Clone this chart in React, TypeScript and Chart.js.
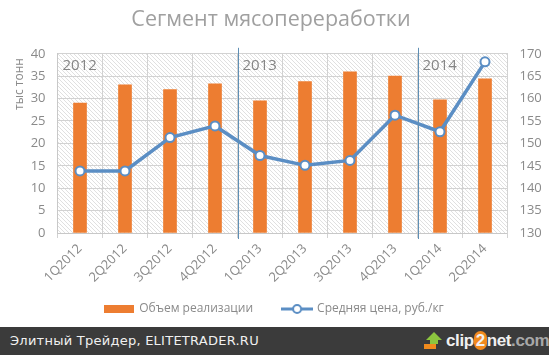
import React, { useEffect, useRef } from "react";
import { Chart, registerables } from "chart.js";

Chart.register(...registerables);

const categories = ["1Q2012", "2Q2012", "3Q2012", "4Q2012", "1Q2013", "2Q2013", "3Q2013", "4Q2013", "1Q2014", "2Q2014"];
const volumes = [29, 33.1, 32, 33.3, 29.5, 33.8, 36, 35, 29.7, 34.4];
const prices = [143.85, 143.85, 151.3, 153.9, 147.3, 145.1, 146.2, 156.3, 152.6, 168.2];
const years = ["2012", "2013", "2014"];
const yearStarts = [0, 4, 8];
const titleText = "Сегмент мясопереработки";
const volumeLabel = "Объем реализации";
const priceLabel = "Средняя цена, руб./кг";
const leftAxisTitle = "тыс тонн";
const footerText = "Элитный Трейдер, ELITETRADER.RU";

const FONT = "'Open Sans', sans-serif";
const GREY = "#8a8a8a";
const BLUE = "#5b8ec4";
const ORANGE = "#ed7d31";

function barSwatch() {
  const c = document.createElement("canvas");
  c.width = 30;
  c.height = 8;
  const x = c.getContext("2d")!;
  x.fillStyle = ORANGE;
  x.fillRect(0, 0, 30, 8);
  return c;
}

function lineSwatch() {
  const c = document.createElement("canvas");
  c.width = 32;
  c.height = 12;
  const x = c.getContext("2d")!;
  x.strokeStyle = BLUE;
  x.lineWidth = 3;
  x.beginPath();
  x.moveTo(0, 6);
  x.lineTo(32, 6);
  x.stroke();
  x.fillStyle = "#fff";
  x.lineWidth = 2;
  x.beginPath();
  x.arc(16, 6, 4, 0, Math.PI * 2);
  x.fill();
  x.stroke();
  return c;
}

function hatch(ctx: CanvasRenderingContext2D) {
  const c = document.createElement("canvas");
  c.width = 4;
  c.height = 4;
  const x = c.getContext("2d")!;
  x.strokeStyle = "#d8d8d8";
  x.lineWidth = 0.8;
  x.beginPath();
  x.moveTo(-1, -1);
  x.lineTo(5, 5);
  x.moveTo(-1, 3);
  x.lineTo(1, 5);
  x.moveTo(3, -1);
  x.lineTo(5, 1);
  x.stroke();
  return ctx.createPattern(c, "repeat")!;
}

const backdrop = {
  id: "backdrop",
  afterLayout(chart: any) {
    chart.scales.x.bottom += 24;
    chart.titleBlock.left -= 7;
    chart.titleBlock.right -= 0;
  },
  beforeDraw(chart: any) {
    const { ctx, chartArea: a } = chart;
    ctx.save();
    ctx.fillStyle = hatch(ctx);
    ctx.fillRect(a.left, a.top, a.width, a.height);
    ctx.restore();
  },
  afterDatasetsDraw(chart: any) {
    const { ctx, chartArea: a, scales } = chart;
    ctx.save();
    const step = a.width / categories.length;
    years.forEach((y, i) => {
      const x0 = scales.x.getPixelForValue(yearStarts[i]) - step / 2;
      if (i > 0) {
        ctx.strokeStyle = "#5f8fb5";
        ctx.lineWidth = 1;
        ctx.beginPath();
        ctx.moveTo(Math.round(x0) + 0.5, a.top - 6);
        ctx.lineTo(Math.round(x0) + 0.5, a.bottom + 6);
        ctx.stroke();
      }
      ctx.fillStyle = "#858585";
      ctx.font = `15px ${FONT}`;
      ctx.textBaseline = "middle";
      ctx.textAlign = "left";
      ctx.fillText(y, x0 + 5, a.top + 12);
    });
    ctx.save();
    ctx.translate(20, 84);
    ctx.rotate(-Math.PI / 2);
    ctx.textAlign = "center";
    ctx.textBaseline = "middle";
    ctx.fillStyle = GREY;
    ctx.font = `12px ${FONT}`;
    ctx.fillText(leftAxisTitle, 0, 0);
    ctx.restore();
    ctx.restore();
  },
};

export default function App() {
  const ref = useRef<HTMLCanvasElement>(null);
  useEffect(() => {
    document.body.style.margin = "0";
    const chart = new Chart(ref.current!, {
      type: "bar",
      data: {
        labels: categories,
        datasets: [
          { type: "line", label: priceLabel, data: prices, yAxisID: "y2", borderColor: BLUE, borderWidth: 3.5, backgroundColor: "#fff", pointBackgroundColor: "#fff", pointBorderColor: BLUE, pointBorderWidth: 2, pointRadius: 4.5, order: 1 },
          { type: "bar", label: volumeLabel, data: volumes, yAxisID: "y", backgroundColor: ORANGE, barThickness: 13, order: 2 },
        ],
      },
      options: {
        animation: false,
        responsive: false,
        layout: { padding: { left: 0, right: 0, top: 0, bottom: 2 } },
        plugins: {
          title: { display: true, text: titleText, color: "#a0a0a0", font: { family: FONT, size: 21.5, weight: "normal" }, padding: { top: 7, bottom: 21 } },
          tooltip: { enabled: false },
          legend: {
            position: "bottom",
            labels: {
              usePointStyle: true,
              pointStyleWidth: 28,
              boxHeight: 12,
              padding: 30,
              color: GREY,
              font: { family: FONT, size: 12 },
              generateLabels: () => [
                { text: volumeLabel, pointStyle: barSwatch(), fontColor: GREY, lineWidth: 0, datasetIndex: 1 },
                { text: priceLabel, pointStyle: lineSwatch(), fontColor: GREY, lineWidth: 0, datasetIndex: 0 },
              ],
            },
          },
        },
        scales: {
          x: {
            grid: { color: "#d2d2d2", tickLength: 5, offset: true },
            border: { color: "#c8c8c8" },
            ticks: { color: GREY, font: { family: FONT, size: 13 }, minRotation: 45, maxRotation: 45, padding: 3 },
            afterFit: (s: any) => { s.height = 40; },
          },
          y: {
            min: 0,
            max: 40,
            position: "left",
            grid: { color: "#d2d2d2", drawTicks: false },
            border: { color: "#c8c8c8" },
            ticks: { stepSize: 5, color: GREY, font: { family: FONT, size: 13 }, padding: 12 },
            afterFit: (s: any) => { s.width = 57.5; },
          },
          y2: {
            min: 130,
            max: 170,
            position: "right",
            grid: { display: false, drawTicks: false },
            border: { color: "#d2d2d2" },
            ticks: { stepSize: 5, color: GREY, font: { family: FONT, size: 13 }, padding: 12 },
            afterFit: (s: any) => { s.width = 41.5; },
          },
        },
      },
      plugins: [backdrop],
    } as any);
    return () => chart.destroy();
  }, []);
  return (
    <div style={{ width: 549, height: 355, position: "relative", overflow: "hidden", background: "#fff" }}>
      <canvas ref={ref} width={549} height={327} style={{ display: "block" }} />
      <div style={{ position: "absolute", left: 0, top: 327, width: 549, height: 28, background: "#3b3b3b", color: "#f0f0f0" }}>
        <span style={{ position: "absolute", left: 10, top: 6, font: "13px 'DejaVu Sans', sans-serif", letterSpacing: 0.25, whiteSpace: "nowrap" }}>{footerText}</span>
        <svg width="18" height="18" style={{ position: "absolute", left: 424, top: 5 }}>
          <polygon points="10,0 18,8 14,8 14,12 6,12 6,8 2,8" fill="#8cc63f" />
          <rect x="0" y="12" width="12" height="5" fill="#f08a1d" />
        </svg>
        <span style={{ position: "absolute", left: 446, top: 4, font: "bold 17px 'Liberation Sans', sans-serif", whiteSpace: "nowrap", letterSpacing: -0.4 }}>
          clip
          <span style={{ background: "#f08a1d", borderRadius: 9, padding: "0 2px" }}>2</span>
          net<span style={{ color: "#a8a8a8" }}>.com</span>
        </span>
      </div>
    </div>
  );
}
